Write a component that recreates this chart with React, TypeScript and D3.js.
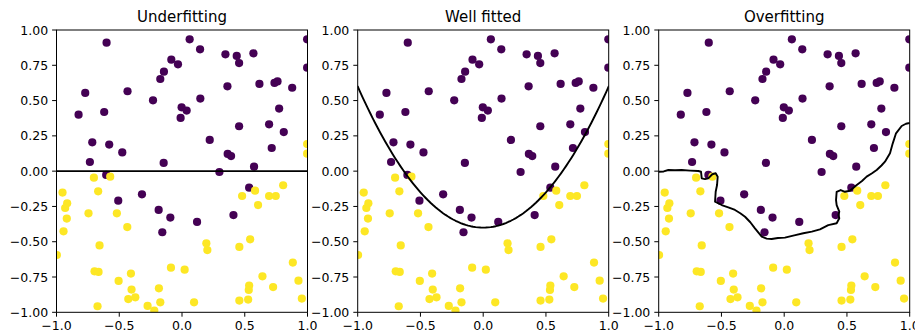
import React from "react";
import * as d3 from "d3";

// Class 0 (purple) samples: [x, y]
const classA: [number, number][] = [
  [-0.601, 0.91], [0.061, 0.934], [0.144, 0.863], [0.346, 0.828], [0.436, 0.816],
  [0.455, 0.766], [0.569, 0.835], [0.997, 0.934], [0.997, 0.733], [-0.085, 0.79],
  [-0.032, 0.757], [-0.144, 0.705], [-0.173, 0.653], [-0.771, 0.554], [-0.434, 0.566],
  [-0.231, 0.502], [0.146, 0.514], [0.362, 0.601], [0.617, 0.618], [0.737, 0.625],
  [0.761, 0.636], [0.878, 0.591], [-0.824, 0.4], [-0.62, 0.419], [-0.003, 0.452],
  [0.037, 0.429], [-0.011, 0.377], [0.774, 0.443], [0.455, 0.318], [0.694, 0.332],
  [0.811, 0.277], [0.221, 0.221], [-0.715, 0.204], [-0.58, 0.188], [-0.476, 0.133],
  [0.364, 0.122], [0.391, 0.107], [0.715, 0.164], [-0.734, 0.065], [-0.146, 0.058],
  [0.298, -0.006], [0.574, 0.032], [-0.604, -0.027], [0.535, -0.117], [-0.319, -0.164],
  [-0.508, -0.209], [-0.186, -0.275], [-0.093, -0.329], [0.12, -0.36], [0.41, -0.311],
  [-0.157, -0.433],
];

// Class 1 (yellow) samples: [x, y]
const classB: [number, number][] = [
  [0.997, 0.192], [0.997, 0.124], [-0.702, -0.046], [-0.572, -0.039], [-0.952, -0.152],
  [-0.668, -0.143], [-0.915, -0.228], [-0.931, -0.261], [-0.918, -0.336], [-0.745, -0.299],
  [-0.519, -0.299], [-0.944, -0.426], [-0.436, -0.396], [-0.997, -0.594], [-0.657, -0.526],
  [-0.697, -0.71], [-0.665, -0.714], [-0.505, -0.778], [-0.407, -0.726], [-0.402, -0.839],
  [-0.428, -0.906], [-0.372, -0.894], [-0.673, -0.957], [-0.274, -0.955], [-0.221, -0.988],
  [-0.184, -0.83], [-0.173, -0.929], [-0.088, -0.684], [0.021, -0.698], [0.096, -0.929],
  [0.194, -0.511], [0.202, -0.559], [0.479, -0.176], [0.582, -0.138], [0.694, -0.176],
  [0.747, -0.176], [0.806, -0.1], [0.606, -0.24], [0.457, -0.537], [0.543, -0.483],
  [0.883, -0.648], [0.928, -0.776], [0.641, -0.745], [0.535, -0.811], [0.532, -0.842],
  [0.726, -0.821], [0.457, -0.917], [0.527, -0.91], [0.955, -0.903],
];

// Decision boundaries
const underfitLine: [number, number][] = [[-1, 0], [1, 0]];

const wellFitX: number[] = d3.range(-1, 1.0001, 0.02);
const wellFitCoef = { a: 1, c: -0.4 };

const overfitLine: [number, number][] = [
  [-1.0, -0.004], [-0.96, -0.002], [-0.923, 0.008], [-0.87, 0.006], [-0.817, 0.008],
  [-0.75, 0.004], [-0.684, 0.001], [-0.663, -0.004], [-0.657, -0.051], [-0.631, -0.056],
  [-0.605, -0.051], [-0.573, -0.022], [-0.546, -0.015], [-0.53, -0.039], [-0.535, -0.098],
  [-0.546, -0.146], [-0.551, -0.216], [-0.498, -0.24], [-0.44, -0.258], [-0.392, -0.275],
  [-0.35, -0.298], [-0.312, -0.323], [-0.27, -0.362], [-0.233, -0.405], [-0.179, -0.464],
  [-0.14, -0.478], [-0.1, -0.481], [-0.05, -0.474], [0.006, -0.471], [0.08, -0.455],
  [0.152, -0.44], [0.22, -0.428], [0.285, -0.412], [0.351, -0.382], [0.418, -0.369],
  [0.439, -0.334], [0.432, -0.31], [0.439, -0.287], [0.418, -0.24], [0.413, -0.205],
  [0.418, -0.146], [0.45, -0.134], [0.484, -0.146], [0.524, -0.139], [0.578, -0.098],
  [0.62, -0.07], [0.657, -0.039], [0.7, -0.015], [0.737, 0.008], [0.775, 0.04],
  [0.803, 0.067], [0.843, 0.126], [0.865, 0.197], [0.891, 0.268], [0.936, 0.32],
  [0.97, 0.336], [0.989, 0.339], [1.0, 0.34],
];

const titles = ["Underfitting", "Well fitted", "Overfitting"];
const xTicks = [-1, -0.5, 0, 0.5, 1];
const yTicks = [1, 0.75, 0.5, 0.25, 0, -0.25, -0.5, -0.75, -1];

const W = 915;
const H = 333;
const panelLefts = [56.5, 357.7, 658.7];
const panelWidth = 251;
const top = 30;
const bottom = 312.3;

const PURPLE = "#440154";
const YELLOW = "#fde725";
const FONT = "DejaVu Sans, sans-serif";

const fmt = (v: number, digits: number) => {
  const s = Math.abs(v).toFixed(digits);
  return v < 0 ? "\u2212" + s : s;
};

function Panel({ index }: { index: number }) {
  const left = panelLefts[index];
  const x = d3.scaleLinear().domain([-1, 1]).range([left, left + panelWidth]);
  const y = d3.scaleLinear().domain([-1, 1]).range([bottom, top]);
  const line = d3
    .line<[number, number]>()
    .x((d) => x(d[0]))
    .y((d) => y(d[1]));

  let boundary: [number, number][];
  if (index === 0) boundary = underfitLine;
  else if (index === 1)
    boundary = wellFitX.map((v) => [v, wellFitCoef.a * v * v + wellFitCoef.c] as [number, number]);
  else boundary = overfitLine;

  const clipId = `clip-${index}`;
  const tickLen = 4.4;

  return (
    <g>
      <defs>
        <clipPath id={clipId}>
          <rect x={x(-1)} y={top} width={x(1) - x(-1)} height={bottom - top} />
        </clipPath>
      </defs>
      <g clipPath={`url(#${clipId})`}>
        {classA.map((d, i) => (
          <circle key={`a${i}`} cx={x(d[0])} cy={y(d[1])} r={4.1} fill={PURPLE} />
        ))}
        {classB.map((d, i) => (
          <circle key={`b${i}`} cx={x(d[0])} cy={y(d[1])} r={4.1} fill={YELLOW} />
        ))}
        <path
          d={line(boundary) || ""}
          fill="none"
          stroke="#000"
          strokeWidth={1.9}
          strokeLinejoin="round"
          strokeLinecap="round"
        />
      </g>
      <rect
        x={x(-1)}
        y={top}
        width={x(1) - x(-1)}
        height={bottom - top}
        fill="none"
        stroke="#000"
        strokeWidth={1}
      />
      {xTicks.map((t) => (
        <g key={`xt${t}`}>
          <line x1={x(t)} x2={x(t)} y1={bottom} y2={bottom + tickLen} stroke="#000" strokeWidth={1} />
          <text
            x={x(t)}
            y={330}
            textAnchor="middle"
            fontFamily={FONT}
            fontSize={12.5}
            fill="#000"
          >
            {fmt(t, 1)}
          </text>
        </g>
      ))}
      {yTicks.map((t) => (
        <g key={`yt${t}`}>
          <line x1={x(-1) - tickLen} x2={x(-1)} y1={y(t)} y2={y(t)} stroke="#000" strokeWidth={1} />
          <text
            x={x(-1) - tickLen - 4}
            y={y(t)}
            dy="0.36em"
            textAnchor="end"
            fontFamily={FONT}
            fontSize={12.5}
            fill="#000"
          >
            {fmt(t, 2)}
          </text>
        </g>
      ))}
      <text
        x={(x(-1) + x(1)) / 2}
        y={22}
        textAnchor="middle"
        fontFamily={FONT}
        fontSize={15}
        fill="#000"
      >
        {titles[index]}
      </text>
    </g>
  );
}

export default function App() {
  return (
    <svg
      width={W}
      height={H}
      viewBox={`0 0 ${W} ${H}`}
      style={{ position: "absolute", left: 0, top: 0, background: "#fff" }}
    >
      <rect x={0} y={0} width={W} height={H} fill="#fff" />
      {[0, 1, 2].map((i) => (
        <Panel key={i} index={i} />
      ))}
    </svg>
  );
}
